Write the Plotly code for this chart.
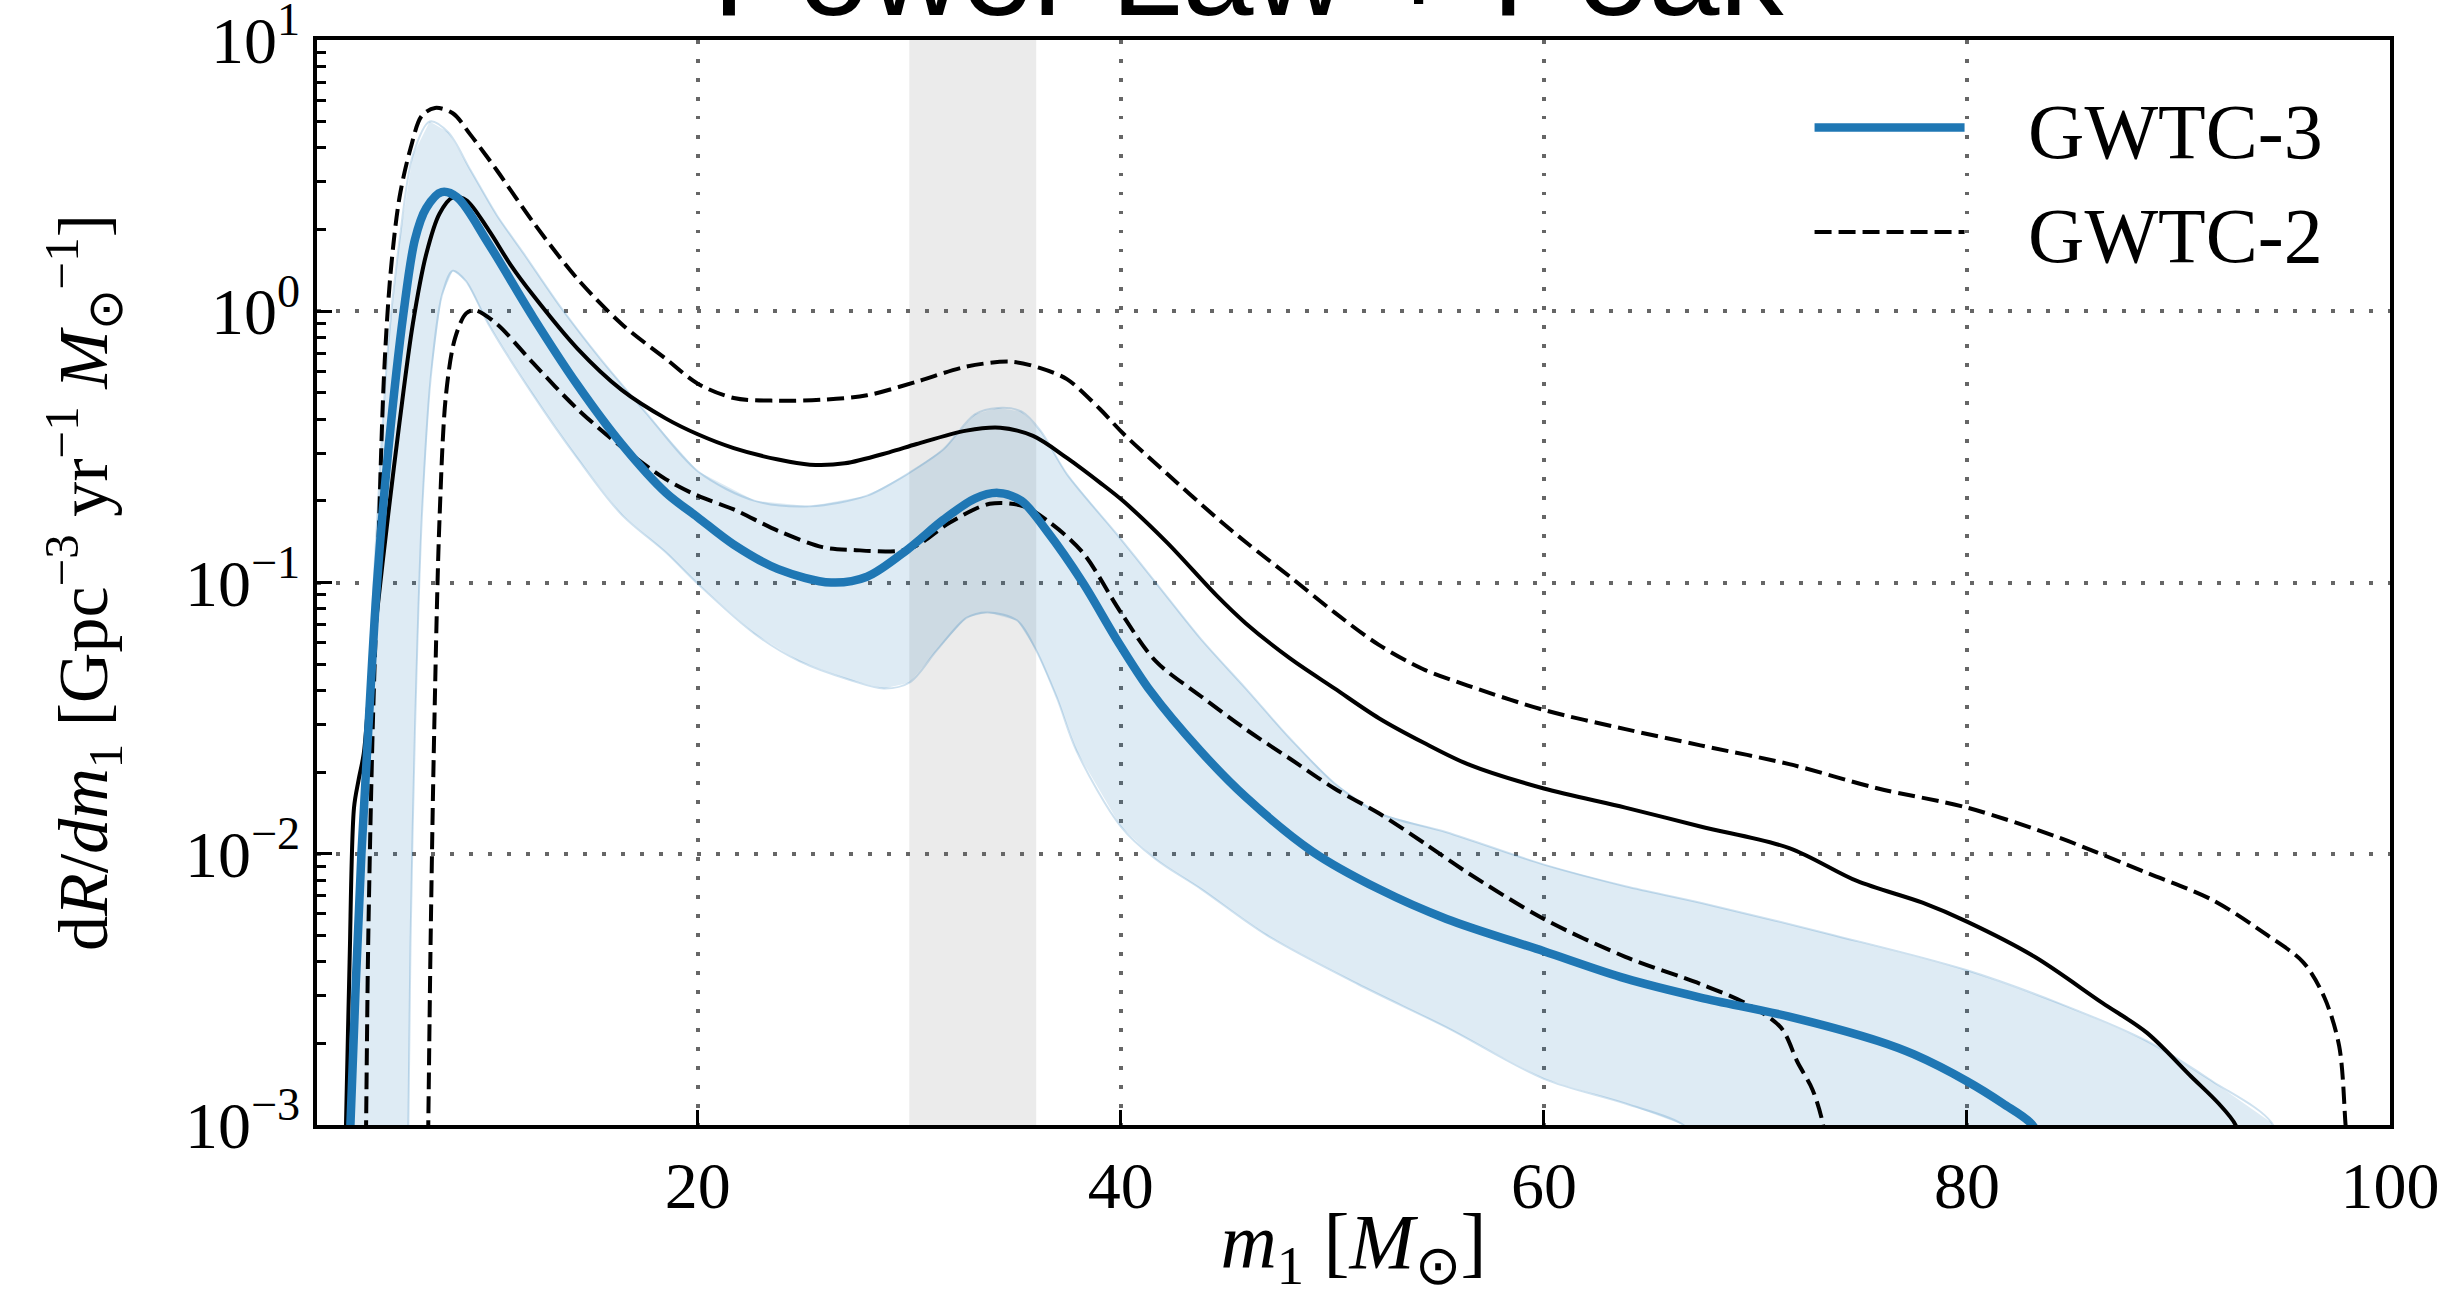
import plotly.graph_objects as go

# ---------------- data ----------------
# GWTC-3 median
g3_med_x = [3.52, 3.58, 4.1, 4.42, 4.84, 5.37, 6.1, 6.63, 7.16, 7.89, 8.63, 10.1, 12.2, 14.3,
            16.4, 18.5, 20.0, 21.7, 23.8, 26.3, 28.0, 29.9, 31.6, 33.1, 34.2, 35.3, 36.5, 38.2,
            39.8, 41.4, 43.75, 45.9, 49.05, 52.2, 55.4, 60.0, 63.85, 67.4, 71.6, 75.8, 77.5,
            80.0, 81.7, 83.1, 83.6]
g3_med_y = [0.0006, 0.001, 0.01, 0.0282, 0.1, 0.307, 1.0, 1.84, 2.40, 2.75, 2.63, 1.78, 0.955,
            0.537, 0.324, 0.214, 0.174, 0.138, 0.112, 0.1, 0.105, 0.132, 0.17, 0.204, 0.214,
            0.2, 0.155, 0.1, 0.0617, 0.0398, 0.024, 0.0162, 0.0102, 0.00741, 0.00575,
            0.00437, 0.00347, 0.00295, 0.00251, 0.00204, 0.00182, 0.00145, 0.0012, 0.001, 0.0008]

# GWTC-3 90% band
g3_hi_x = [3.55, 3.6, 4.0, 4.42, 4.84, 5.37, 5.9, 6.53, 7.33, 8.2, 9.26, 10.5, 11.8, 13.5, 15.4,
           17.5, 20.0, 22.7, 25.3, 28.0, 29.9, 31.6, 33.1, 34.2, 35.3, 36.2, 37.45, 39.8, 41.65,
           43.8, 45.9, 48.0, 50.1, 52.2, 55.4, 60.0, 63.85, 67.4, 73.7, 80.0, 84.3, 88.5, 91.6,
           94.4, 95.0]
g3_hi_y = [0.0006, 0.001, 0.006, 0.04, 0.17, 0.759, 1.82, 3.76, 5.01, 4.57, 3.31, 2.26, 1.62,
           1.04, 0.667, 0.427, 0.257, 0.2, 0.191, 0.209, 0.251, 0.309, 0.417, 0.44, 0.427,
           0.363, 0.251, 0.151, 0.1, 0.0617, 0.0407, 0.0266, 0.0182, 0.0141, 0.012, 0.00912,
           0.00759, 0.0066, 0.00501, 0.00372, 0.00282, 0.00204, 0.00145, 0.00102, 0.0007]
g3_lo_x = [6.25, 6.32, 6.42, 6.63, 6.95, 7.37, 7.9, 8.42, 9.05, 10.1, 12.2, 14.3, 16.4, 18.5,
           20.0, 22.7, 24.8, 27.2, 28.8, 30.0, 31.3, 32.7, 33.7, 35.1, 36.0, 37.0, 37.9, 40.0,
           41.65, 43.8, 46.9, 51.2, 55.4, 60.0, 63.85, 66.6, 67.5]
g3_lo_y = [0.0006, 0.001, 0.00468, 0.0282, 0.17, 0.562, 1.14, 1.41, 1.29, 0.898, 0.494, 0.288,
           0.178, 0.129, 0.0989, 0.0646, 0.0513, 0.0437, 0.0407, 0.0427, 0.0562, 0.0741,
           0.0776, 0.0724, 0.0562, 0.0372, 0.024, 0.0126, 0.00955, 0.00741, 0.00501, 0.00331,
           0.00229, 0.00148, 0.0012, 0.001, 0.0008]

# GWTC-2 median
g2_med_x = [3.3, 3.37, 3.54, 3.75, 3.96, 4.21, 4.42, 4.84, 5.37, 5.9, 6.53, 7.16, 7.79, 8.42,
            9.05, 10.1, 11.16, 12.2, 14.3, 16.4, 18.5, 20.0, 21.7, 23.8, 25.3, 26.95, 29.05,
            30.35, 32.7, 34.3, 35.85, 37.45, 39.0, 40.1, 42.2, 44.5, 45.9, 48.0, 50.1, 52.2,
            54.3, 56.4, 60.0, 63.85, 67.4, 71.6, 74.8, 77.9, 80.0, 83.2, 86.4, 88.5, 90.6, 91.9,
            92.7, 93.0]
g2_med_y = [0.0006, 0.001, 0.00398, 0.0148, 0.0186, 0.0234, 0.0355, 0.0776, 0.179, 0.389,
            0.898, 1.62, 2.29, 2.63, 2.57, 2.0, 1.48, 1.15, 0.73, 0.513, 0.402, 0.352, 0.313,
            0.284, 0.272, 0.275, 0.302, 0.324, 0.363, 0.372, 0.347, 0.288, 0.234, 0.2, 0.14,
            0.09, 0.0708, 0.0525, 0.0407, 0.0316, 0.0257, 0.0214, 0.0174, 0.0148, 0.0126,
            0.0105, 0.00794, 0.0066, 0.00562, 0.00417, 0.00282, 0.00219, 0.00151, 0.0012,
            0.001, 0.0008]

# GWTC-2 90% bounds (dashed)
g2_hi_x = [4.28, 4.32, 4.42, 4.63, 4.84, 5.16, 5.47, 5.9, 6.42, 6.95, 7.58, 8.42, 9.26, 10.5,
           12.2, 14.3, 16.4, 18.5, 20.0, 21.7, 23.8, 25.9, 28.0, 30.35, 32.7, 34.8, 36.2, 37.45,
           39.0, 40.1, 42.2, 44.5, 45.9, 48.0, 50.1, 52.2, 54.3, 56.4, 60.0, 63.85, 67.4,
           71.6, 75.8, 80.0, 84.3, 88.5, 91.6, 94.2, 95.9, 96.9, 97.6, 97.9, 98.0]
g2_hi_y = [0.0006, 0.001, 0.00468, 0.0282, 0.0933, 0.562, 1.36, 2.63, 3.98, 5.25, 5.62, 5.37,
           4.47, 3.31, 2.14, 1.32, 0.898, 0.667, 0.541, 0.479, 0.468, 0.472, 0.49, 0.55,
           0.625, 0.652, 0.617, 0.562, 0.437, 0.355, 0.251, 0.174, 0.141, 0.105, 0.0776,
           0.0589, 0.0479, 0.0417, 0.0339, 0.0288, 0.0251, 0.0214, 0.0174, 0.0148, 0.0115,
           0.00851, 0.00676, 0.00501, 0.00398, 0.00295, 0.00195, 0.001, 0.0008]
g2_lo_x = [7.22, 7.26, 7.37, 7.54, 7.79, 8.1, 8.53, 9.05, 9.47, 10.5, 12.2, 14.3, 16.4, 18.5,
           20.0, 21.7, 23.8, 25.9, 27.2, 30.0, 31.9, 33.8, 35.4, 36.66, 38.2, 40.0, 41.65, 43.8,
           45.9, 48.0, 50.1, 52.2, 54.3, 56.4, 60.0, 63.85, 67.4, 69.5, 71.2, 72.0,
           72.7, 73.2, 73.3]
g2_lo_y = [0.0006, 0.001, 0.00468, 0.0282, 0.17, 0.494, 0.798, 0.982, 1.01, 0.898, 0.646,
           0.437, 0.316, 0.24, 0.209, 0.186, 0.155, 0.135, 0.132, 0.133, 0.166, 0.195,
           0.191, 0.166, 0.129, 0.0776, 0.0513, 0.038, 0.0288, 0.0224, 0.0174, 0.0141,
           0.011, 0.00851, 0.00575, 0.00417, 0.00331, 0.00282, 0.00229, 0.0017, 0.00135,
           0.001, 0.0008]

peak_band = [30, 36]
x_ticks = [20, 40, 60, 80, 100]
y_ticks = [1e-3, 1e-2, 1e-1, 1, 10]
y_tick_text = ["10<sup>−3</sup>", "10<sup>−2</sup>", "10<sup>−1</sup>", "10<sup>0</sup>", "10<sup>1</sup>"]
y_minor = [m * 10.0 ** e for e in (-3, -2, -1, 0) for m in range(2, 10)]
series_names = ["GWTC-3", "GWTC-2"]

# ---------------- figure ----------------
BLUE = "#1f77b4"
SERIF = "Liberation Serif"
DASH = "17px,7px"
SMOOTH = 0.9
PAD = "\u00a0\u00a0\u00a0"

fig = go.Figure()

# 90% band of GWTC-3
fig.add_trace(go.Scatter(
    x=g3_hi_x + g3_lo_x[::-1], y=g3_hi_y + g3_lo_y[::-1],
    fill="toself", fillcolor="rgba(31,119,180,0.15)", line=dict(width=0),
    mode="lines", showlegend=False, hoverinfo="skip"))
for bx, by in ((g3_hi_x, g3_hi_y), (g3_lo_x, g3_lo_y)):
    fig.add_trace(go.Scatter(x=bx, y=by, mode="lines", showlegend=False,
                             line=dict(color="rgba(31,119,180,0.22)", width=2,
                                       shape="spline", smoothing=SMOOTH)))

# GWTC-2 bounds (dashed) and median (solid)
fig.add_trace(go.Scatter(x=g2_hi_x, y=g2_hi_y, mode="lines", name=PAD + series_names[1],
                         legendrank=2,
                         line=dict(color="black", width=4, dash=DASH,
                                   shape="spline", smoothing=SMOOTH)))
fig.add_trace(go.Scatter(x=g2_lo_x, y=g2_lo_y, mode="lines", showlegend=False,
                         line=dict(color="black", width=4, dash=DASH,
                                   shape="spline", smoothing=SMOOTH)))
fig.add_trace(go.Scatter(x=g2_med_x, y=g2_med_y, mode="lines", showlegend=False,
                         line=dict(color="black", width=4, shape="spline", smoothing=SMOOTH)))

# GWTC-3 median
fig.add_trace(go.Scatter(x=g3_med_x, y=g3_med_y, mode="lines", name=PAD + series_names[0],
                         legendrank=1,
                         line=dict(color=BLUE, width=8.5, shape="spline", smoothing=SMOOTH)))

# shaded peak region
fig.add_shape(type="rect", xref="x", yref="paper", x0=peak_band[0], x1=peak_band[1],
              y0=0, y1=1, fillcolor="#ebebeb", line=dict(width=0), layer="between")

grid = dict(showgrid=True, gridcolor="#666666", gridwidth=3.5, griddash="3.5px,15.5px")

fig.update_layout(
    width=2449, height=1296,
    margin=dict(l=317, r=59, t=40, b=171),
    paper_bgcolor="white", plot_bgcolor="white",
    font=dict(family=SERIF, color="black", size=64),
    title=dict(text="Power Law + Peak", xref="container", yref="container",
               x=0.5096, xanchor="center", y=1 - 15 / 1296, yanchor="bottom",
               font=dict(family="Liberation Sans", size=128, color="black")),
    showlegend=True,
    legend=dict(x=0.72, y=0.972, xanchor="left", yanchor="top",
                bgcolor="rgba(0,0,0,0)", borderwidth=0,
                font=dict(family=SERIF, size=78), itemwidth=150,
                traceorder="normal"),
    xaxis=dict(range=[2, 100], tickvals=x_ticks, ticks="inside", ticklen=15, tickwidth=3,
               tickcolor="black", showline=True, linewidth=3.5, linecolor="black",
               mirror=True, zeroline=False, automargin=False, ticklabeloverflow="allow",
               tickfont=dict(size=66, family=SERIF),
               title=dict(text="<i>m</i><sub>1</sub> [<i>M</i><sub>⊙</sub>]",
                          font=dict(size=78, family=SERIF), standoff=14),
               **grid),
    yaxis=dict(type="log", range=[-3, 1.0001], tickvals=y_ticks, ticktext=y_tick_text,
               ticks="inside", ticklen=15, tickwidth=3, tickcolor="black",
               showline=True, linewidth=3.5, linecolor="black", mirror=True,
               zeroline=False, automargin=False, ticklabeloverflow="allow",
               minor=dict(tickvals=y_minor, ticks="inside", ticklen=9, tickwidth=2.5,
                          tickcolor="black", showgrid=False),
               tickfont=dict(size=66, family=SERIF),
               title=dict(text="d<i>R</i>/<i>dm</i><sub>1</sub> [Gpc<sup>−3</sup> yr<sup>−1</sup> <i>M</i><sub>⊙</sub><sup>−1</sup>]",
                          font=dict(size=70, family=SERIF), standoff=55),
               **grid),
)

fig.write_html("out.html")
